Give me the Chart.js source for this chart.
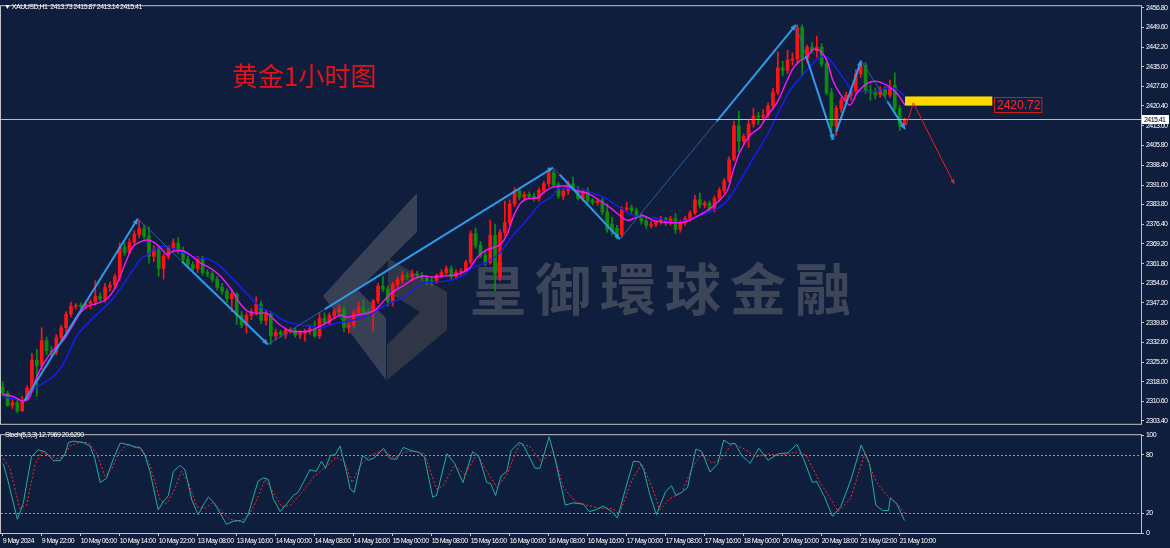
<!DOCTYPE html>
<html>
<head>
<meta charset="utf-8">
<script src="https://cdn.jsdelivr.net/npm/chart.js@4.4.1/dist/chart.umd.min.js"></script>
<style>
  html, body { margin: 0; padding: 0; background: #101e3e; }
  #wrap { position: relative; width: 1170px; height: 548px; overflow: hidden; background: #101e3e; }
  canvas { position: absolute; left: 0; z-index: 1; }
  #price { top: 0; }
  #stoch { top: 429px; }
  .lbl { position: absolute; z-index: 2; color: #fff; font: 7px "Liberation Sans", sans-serif; letter-spacing: -0.5px; white-space: nowrap; }
  #title { position: absolute; z-index: 2; left: 232px; top: 56px; color: #e3131b; font: 26px "Noto Sans CJK SC", sans-serif; }
  #wm { position: absolute; z-index: 0; left: 0; top: 0; }
  #wmText { position: absolute; z-index: 0; left: 470px; top: 245px; font: bold 56px "Noto Sans CJK TC", sans-serif; letter-spacing: 9px; color: rgba(125,125,125,0.42); }
</style>
</head>
<body>
<div id="wrap">
  <svg id="wm" width="1170" height="430">
    <polygon points="417,193 417,232 358,290 386,318 386,380 323,296" fill="rgba(130,130,130,0.35)"/>
    <polygon points="388,258 447,292 447,330 387,380 387,345 420,312 388,292" fill="rgba(75,75,75,0.55)"/>
  </svg>
  <div id="wmText">皇御環球金融</div>
  <canvas id="price" width="1170" height="430"></canvas>
  <canvas id="stoch" width="1170" height="119"></canvas>
  <div class="lbl" style="left:4px;top:3px">▼ XAUUSD,H1&nbsp; 2413.73 2415.87 2413.14 2415.41</div>
  <div id="title">黄金1小时图</div>
  <div class="lbl" style="left:5px;top:431px">Stoch(5,3,3) 12.7969 20.6290</div>
</div>
<script>
// hourly bars, index 0 = 9 May 14:00
const open = [
  2316.0, 2313.6, 2309.2, 2310.2, 2307.2, 2311.5, 2315.5, 2326.0, 2324.0, 2333.2,
  2329.5, 2328.8, 2334.3, 2338.0, 2343.0, 2346.0, 2346.3, 2346.0, 2346.8, 2347.7,
  2349.8, 2348.7, 2353.0, 2353.8, 2356.9, 2368.0, 2366.0, 2369.7, 2372.7, 2374.8,
  2372.0, 2364.5, 2367.0, 2360.0, 2364.5, 2367.5, 2369.5, 2366.7, 2363.5, 2361.5,
  2360.0, 2363.5, 2358.5, 2358.0, 2356.0, 2353.0, 2351.5, 2348.8, 2350.5, 2342.6,
  2339.0, 2342.6, 2344.0, 2346.8, 2340.7, 2343.0, 2335.0, 2336.3, 2335.5, 2337.0,
  2337.2, 2335.3, 2336.0, 2336.8, 2337.6, 2335.0, 2341.5, 2340.0, 2342.5, 2344.0,
  2345.0, 2338.0, 2339.0, 2343.5, 2345.6, 2344.0, 2343.3, 2348.0, 2353.5, 2352.5,
  2347.8, 2354.0, 2355.8, 2357.5, 2357.0, 2358.0, 2357.5, 2356.5, 2355.5, 2355.0,
  2357.5, 2358.5, 2360.0, 2357.0, 2358.7, 2359.0, 2362.3, 2373.0, 2368.6, 2365.0,
  2362.3, 2372.3, 2357.0, 2373.3, 2377.0, 2384.0, 2388.8, 2386.5, 2387.5, 2386.8,
  2386.0, 2389.0, 2391.5, 2395.5, 2391.0, 2387.0, 2388.8, 2391.5, 2389.5, 2386.0,
  2388.8, 2385.5, 2384.5, 2385.0, 2381.0, 2376.5, 2375.0, 2372.5, 2382.0, 2382.5,
  2381.5, 2379.5, 2377.7, 2376.0, 2376.5, 2377.3, 2378.5, 2377.0, 2378.5, 2374.5,
  2377.0, 2378.5, 2380.7, 2385.5, 2383.5, 2384.3, 2382.0, 2386.0, 2389.0, 2392.5,
  2400.5, 2413.0, 2407.3, 2409.0, 2413.7, 2416.6, 2416.3, 2417.0, 2420.3, 2425.5,
  2434.5, 2433.6, 2437.4, 2437.8, 2449.5, 2438.0, 2442.2, 2441.0, 2442.2, 2436.0,
  2425.3, 2413.0, 2419.5, 2422.5, 2424.3, 2426.0, 2432.3, 2435.5, 2426.0, 2425.5,
  2424.5, 2426.5, 2424.5, 2428.0, 2419.5, 2413.73
];
const high = [
  2318.0, 2314.5, 2311.5, 2311.0, 2312.5, 2316.5, 2328.5, 2330.0, 2338.0, 2334.5,
  2331.0, 2335.5, 2339.0, 2344.0, 2347.5, 2347.0, 2347.3, 2347.5, 2348.5, 2355.5,
  2351.0, 2354.5, 2355.0, 2358.0, 2369.5, 2369.5, 2371.0, 2374.0, 2378.0, 2376.0,
  2375.5, 2368.5, 2368.5, 2365.5, 2368.5, 2371.0, 2371.5, 2368.0, 2364.5, 2362.5,
  2364.5, 2364.5, 2359.5, 2359.0, 2357.0, 2354.5, 2352.5, 2352.0, 2351.0, 2344.0,
  2343.5, 2345.0, 2349.5, 2348.0, 2344.5, 2344.0, 2337.5, 2337.0, 2338.0, 2338.0,
  2338.0, 2337.0, 2337.5, 2339.0, 2340.5, 2343.5, 2343.5, 2343.5, 2345.0, 2346.5,
  2346.0, 2340.0, 2344.5, 2347.5, 2348.5, 2345.0, 2348.5, 2354.5, 2357.0, 2353.5,
  2355.0, 2357.0, 2359.0, 2358.5, 2359.5, 2359.0, 2358.5, 2357.5, 2357.0, 2358.0,
  2359.5, 2361.0, 2361.0, 2359.5, 2360.0, 2363.0, 2374.0, 2375.0, 2370.0, 2366.5,
  2378.0, 2376.5, 2374.5, 2385.0, 2385.5, 2390.0, 2390.0, 2388.5, 2388.5, 2388.0,
  2390.0, 2392.5, 2397.5, 2396.5, 2392.0, 2389.5, 2392.5, 2394.0, 2390.5, 2389.5,
  2390.0, 2386.0, 2386.0, 2386.0, 2384.0, 2379.0, 2376.0, 2383.0, 2384.5, 2383.5,
  2382.5, 2380.5, 2378.5, 2377.5, 2378.0, 2379.5, 2379.0, 2379.5, 2380.5, 2378.0,
  2379.5, 2381.5, 2387.3, 2388.0, 2385.0, 2385.0, 2387.0, 2390.0, 2393.5, 2401.5,
  2414.8, 2418.5, 2410.0, 2415.0, 2419.5, 2418.0, 2419.0, 2421.5, 2427.0, 2440.4,
  2437.0, 2441.0, 2440.0, 2450.5, 2450.5, 2443.0, 2444.0, 2446.3, 2443.5, 2437.0,
  2427.0, 2420.5, 2423.5, 2425.5, 2427.0, 2434.0, 2437.2, 2436.5, 2428.0, 2427.0,
  2427.5, 2427.5, 2430.0, 2432.7, 2420.5, 2415.87
];
const low = [
  2312.8, 2308.8, 2308.0, 2306.5, 2306.8, 2310.8, 2315.0, 2312.5, 2322.5, 2328.0,
  2327.5, 2328.0, 2333.0, 2336.5, 2342.0, 2345.0, 2345.3, 2345.0, 2345.0, 2346.5,
  2348.0, 2347.5, 2351.5, 2352.5, 2355.5, 2365.0, 2365.5, 2368.5, 2371.5, 2371.0,
  2362.0, 2362.5, 2357.2, 2356.0, 2363.5, 2366.5, 2365.5, 2362.5, 2360.5, 2359.0,
  2358.5, 2357.5, 2357.0, 2355.0, 2352.0, 2350.5, 2347.5, 2344.0, 2339.2, 2338.0,
  2336.0, 2341.0, 2342.5, 2339.5, 2339.0, 2331.8, 2333.5, 2334.5, 2334.0, 2336.0,
  2334.5, 2334.0, 2333.0, 2335.5, 2334.5, 2334.0, 2339.0, 2339.0, 2341.5, 2343.0,
  2336.5, 2336.0, 2338.0, 2342.5, 2343.0, 2342.0, 2336.8, 2347.0, 2351.5, 2346.0,
  2346.0, 2353.0, 2354.5, 2356.0, 2355.5, 2356.5, 2355.5, 2354.0, 2353.5, 2354.5,
  2356.5, 2357.5, 2356.0, 2356.0, 2357.5, 2358.0, 2361.5, 2367.5, 2364.0, 2361.0,
  2361.5, 2351.8, 2355.5, 2372.0, 2376.0, 2383.0, 2385.5, 2385.5, 2386.0, 2385.0,
  2385.0, 2388.0, 2390.5, 2390.0, 2386.0, 2385.5, 2387.5, 2389.0, 2385.5, 2385.0,
  2384.0, 2383.5, 2383.5, 2380.0, 2373.5, 2372.5, 2371.0, 2371.5, 2381.0, 2380.5,
  2378.5, 2376.5, 2375.0, 2375.0, 2375.5, 2376.5, 2376.0, 2376.0, 2373.0, 2373.5,
  2376.0, 2377.5, 2380.0, 2382.5, 2382.5, 2381.0, 2381.0, 2385.0, 2388.0, 2392.0,
  2400.0, 2403.3, 2406.0, 2405.0, 2412.5, 2413.5, 2415.0, 2416.0, 2419.0, 2424.5,
  2431.5, 2432.5, 2435.5, 2436.5, 2431.5, 2436.5, 2440.0, 2438.5, 2435.0, 2424.5,
  2407.8, 2409.5, 2418.0, 2420.5, 2422.5, 2425.0, 2431.0, 2425.0, 2422.5, 2423.0,
  2423.5, 2423.5, 2423.5, 2418.5, 2411.3, 2413.14
];
const close = [
  2313.6, 2309.2, 2310.2, 2307.2, 2311.5, 2315.5, 2326.0, 2324.0, 2333.2, 2329.5,
  2328.8, 2334.3, 2338.0, 2343.0, 2346.0, 2346.3, 2346.0, 2346.8, 2347.7, 2349.8,
  2348.7, 2353.0, 2353.8, 2356.9, 2368.0, 2366.0, 2369.7, 2372.7, 2374.8, 2372.0,
  2364.5, 2367.0, 2360.0, 2364.5, 2367.5, 2369.5, 2366.7, 2363.5, 2361.5, 2360.0,
  2363.5, 2358.5, 2358.0, 2356.0, 2353.0, 2351.5, 2348.8, 2350.5, 2342.6, 2339.0,
  2342.6, 2344.0, 2346.8, 2340.7, 2343.0, 2335.0, 2336.3, 2335.5, 2337.0, 2337.2,
  2335.3, 2336.0, 2336.8, 2337.6, 2335.0, 2341.5, 2340.0, 2342.5, 2344.0, 2345.0,
  2338.0, 2339.0, 2343.5, 2345.6, 2343.6, 2343.3, 2348.0, 2353.5, 2352.5, 2347.8,
  2354.0, 2355.8, 2357.5, 2357.0, 2358.0, 2357.5, 2356.5, 2355.5, 2355.0, 2357.5,
  2358.5, 2360.0, 2357.0, 2358.7, 2359.0, 2362.3, 2373.0, 2368.6, 2365.0, 2362.3,
  2372.3, 2358.0, 2373.3, 2377.0, 2384.0, 2388.8, 2386.5, 2387.5, 2386.8, 2386.0,
  2389.0, 2391.5, 2395.5, 2391.0, 2387.0, 2388.8, 2391.5, 2389.5, 2386.0, 2388.8,
  2385.0, 2384.5, 2385.0, 2381.0, 2374.5, 2373.5, 2372.5, 2382.0, 2382.5, 2381.5,
  2379.5, 2377.7, 2376.0, 2376.5, 2377.3, 2378.5, 2377.0, 2378.5, 2374.5, 2377.0,
  2378.5, 2380.7, 2385.5, 2383.5, 2384.3, 2382.0, 2386.0, 2389.0, 2392.5, 2400.5,
  2413.0, 2407.3, 2409.0, 2413.7, 2416.6, 2416.3, 2417.0, 2420.3, 2425.5, 2434.5,
  2433.6, 2437.4, 2437.8, 2449.5, 2438.0, 2442.2, 2441.0, 2442.2, 2436.0, 2425.3,
  2413.0, 2419.5, 2422.5, 2424.3, 2426.0, 2432.3, 2435.5, 2426.0, 2425.5, 2424.5,
  2426.5, 2424.5, 2427.0, 2419.5, 2413.0, 2415.41
];

// moving averages: [bar, price]
const maFast = [[0,2313.2],[2.1,2312.5],[4.2,2310.7],[5.6,2312.5],[7,2319.8],[8.3,2324.5],[10.3,2329.6],[12.4,2333.2],[14.4,2339],[15.9,2343.4],[17.3,2345.9],[19.3,2347],[21.4,2348.8],[23,2352.5],[24.1,2357.2],[25.7,2364.4],[26.7,2368.1],[28.2,2369.9],[29.8,2370.6],[31.2,2369.5],[32.7,2367],[33.7,2365.2],[34.9,2366.3],[36.8,2366.6],[38.4,2365.2],[40.1,2362.6],[41.9,2360.8],[43.5,2359],[45.2,2356.1],[47.2,2351.4],[48.7,2347],[50.3,2344.1],[52.2,2343.4],[54.2,2343.4],[55.4,2341.5],[56.9,2339],[58.9,2336.8],[61,2336.5],[63,2336.8],[65.1,2338.6],[67.1,2340.5],[69.2,2342.7],[70.6,2341.9],[72.7,2342.7],[74.7,2343.4],[76.4,2344.5],[78,2347.7],[80.1,2351.4],[82.1,2353.5],[84.2,2356.1],[86.2,2357.2],[88.3,2356.8],[90.3,2357.2],[92.4,2357.5],[94.4,2358.6],[95.9,2360.4],[97.3,2364.1],[99.3,2367],[100.6,2367.7],[102,2368.8],[103.4,2372.4],[104.7,2379],[106.1,2384],[107.5,2385.9],[109.6,2386.2],[110.8,2388],[112.3,2389.9],[113.7,2390.6],[115.8,2390.6],[117.8,2388.8],[119.9,2388],[121.9,2385.9],[124.6,2382.6],[126.6,2379.7],[128.1,2377.9],[130.1,2379],[131.3,2379.7],[133.4,2377.9],[136.3,2377.1],[139.5,2377.1],[141.6,2378.6],[144.5,2381.5],[146.5,2384.4],[148.6,2388.8],[149.8,2396],[151.2,2403.3],[153.3,2409.5],[155.3,2412.4],[156.8,2416.7],[158.8,2421.5],[160.9,2429.8],[162.1,2434.2],[163.5,2437.1],[165,2438.5],[166.2,2441.4],[167.7,2440.7],[169.1,2437.1],[170.3,2429.8],[171.7,2425.1],[173.8,2420.7],[175.2,2425.1],[177.3,2428.7],[179.3,2429.5],[181.4,2428],[183.4,2425.1],[185.1,2420.7]];
const maSlow = [[0,2312.5],[1.5,2311.8],[5,2311.4],[6.2,2315],[10.3,2319.8],[12.4,2324.5],[15.2,2335],[18.5,2341.5],[22.6,2348.8],[25.5,2356.1],[28.2,2363.3],[29.8,2365.2],[31.7,2367.7],[33.7,2368.1],[36.4,2366.3],[39,2364.4],[42.5,2363.3],[44.6,2360.8],[47.2,2356.1],[50.1,2350.6],[52.8,2345.9],[55.4,2343.4],[57.5,2340.8],[61,2339],[63,2338.6],[65.1,2337.9],[68.6,2339.7],[71.2,2340.5],[75.3,2342.7],[77.4,2345.2],[80.1,2347.7],[82.9,2349.9],[85.6,2354.3],[88.3,2355],[91.1,2355.4],[93.8,2356.8],[96.5,2360.4],[99.3,2362.3],[102,2365.9],[104.7,2372.4],[107.5,2377.9],[110.2,2384],[112.3,2386.2],[114.3,2389.9],[117,2389.5],[118.4,2389.5],[121.1,2388],[123.9,2385.9],[126.6,2382.6],[129.3,2379.7],[132.2,2379],[134.8,2378.6],[137.5,2377.1],[140.4,2377.9],[143,2379.7],[146.5,2382.2],[148.6,2385.1],[151.2,2392.4],[153.9,2400.8],[156.8,2409.5],[158.8,2416.7],[161.5,2426.2],[163.5,2430.5],[165.6,2434.9],[167.7,2438.5],[169.1,2438.5],[171.1,2434.2],[173.2,2428.7],[174.4,2425.8],[176.5,2425.8],[179.3,2425.8],[182,2427.3],[183.6,2426.2],[185.1,2424]];

// stochastic (5,3,3): [bar, value]
const stochMain = [[0.1,71],[1.1,53],[3,14],[4.2,30],[5.9,78],[7.3,85],[8.7,83],[10.4,74],[11.8,74],[12.8,81],[13.5,92.5],[14.5,94],[16.5,92.5],[17.9,89],[18.9,76],[20,51.5],[21.3,56],[22.7,76],[24.1,92],[25.1,91],[26.1,90],[27.1,87.6],[28.2,87.6],[29.2,79],[30.2,63],[31.9,23.6],[32.9,31.8],[34,38.4],[35,63],[36.4,69],[37.4,64.6],[38.8,33.5],[40.1,18.7],[41.3,30],[42.2,36.7],[43.2,31.8],[44.6,20.3],[45.9,8.9],[47.3,12],[48.7,12.8],[49.4,10.4],[50.4,19.7],[51.4,36.7],[52.4,53],[53.5,56.4],[54.5,54.7],[55.5,35],[56.9,22],[58.3,30],[59.6,38.4],[60.6,41.6],[61.8,53],[63,64.6],[64.3,63],[65.4,73.4],[66.2,66],[67.2,79.3],[68.2,80],[69.2,89],[70.5,63],[71.3,44.9],[72.1,41.6],[73.8,79.3],[75,74.4],[76.2,76.8],[78.1,86.6],[79.5,76],[80.8,75.4],[82.2,87.6],[83.7,84.3],[85.3,82.7],[86.5,77.8],[88.2,36.7],[89,38.4],[91.1,81],[92.7,71.2],[94.4,51.5],[96.4,83.3],[97.7,77.8],[99.3,51.5],[100.1,50.5],[101.1,38.4],[102.2,58],[103.4,63],[104.3,84.3],[105.9,92.5],[106.7,90.8],[109.2,66.2],[110.2,66.2],[112.1,98.4],[113.3,76],[115.4,28.5],[117,30.8],[119.1,29.5],[120.3,22],[121.6,23.6],[123.2,27.6],[124.9,22],[126.1,15.4],[128.2,53],[129.4,73.4],[130.6,72.8],[131.5,64.6],[132.7,40],[134.1,18.7],[136,42.6],[137.2,48.2],[138.1,38.4],[139.3,41.6],[140.5,46.6],[142.2,85.9],[143.4,83.3],[145.1,62.3],[146.7,71.2],[147.9,95.1],[149.2,90.8],[150.2,91.8],[151.6,79.3],[153.3,71.2],[155.1,86.6],[157,74.4],[159.1,81],[161.1,82],[162.9,90.8],[164.4,74.4],[166.1,51.5],[166.9,53],[168.6,36.7],[170.2,17],[171.9,26.9],[173.9,53],[176.1,89.9],[177.8,71.2],[179.1,28.5],[180.5,22.9],[181.7,22.9],[182.1,36],[183.4,29.5],[185,12.8]];
const stochSignal = [[0.1,76],[1.5,66],[3.5,25],[4.9,28.5],[6.6,69.5],[8,82.7],[9.7,79],[11.1,76],[12.4,77.7],[13.8,89],[15.9,93],[17.6,92.5],[19.3,81],[21,58],[22.4,66],[23.7,81],[25.4,90],[27.1,89],[28.8,84],[30.2,69.5],[32.3,33.5],[33.6,30],[35,41.6],[36.7,63],[38.1,51.5],[39.8,27],[41.5,25],[43.2,31.8],[44.9,22],[46.6,14],[48.7,12],[50.4,17],[52.1,33.5],[53.8,54.7],[55.5,41.6],[57.2,27],[58.9,28],[61.4,41.6],[63.9,58],[66.4,67.9],[68.4,77.8],[70.1,72.8],[71.7,51.5],[73.4,69.5],[75.4,79.3],[77.9,84.3],[80.4,76.8],[82.4,82.7],[84.5,83.3],[86.5,81],[89,44.9],[90.3,48.2],[92.7,69.5],[94.8,59.6],[97.3,81],[99.3,63],[101.4,46.6],[103.4,59.6],[105.9,89.9],[108,89.2],[110.5,72.8],[112.9,84.3],[115,46.6],[117.5,31.8],[119.9,28.5],[122.4,25.2],[124.9,25.2],[126.5,19.7],[129,53],[131.1,71.2],[133.1,48.2],[134.8,23.6],[136.8,35],[139.3,41.6],[141.4,66.2],[143.4,81],[145.5,71.2],[147.5,76],[149.6,91.8],[152.1,85.9],[154.5,77.8],[157,81],[159.5,79.3],[162.8,82.7],[164.8,79.3],[167.7,51.5],[171.4,22],[173.9,35],[176.8,81],[179.3,51.5],[181.7,36.7],[183.5,30],[185,20.6]];

// axes
const priceTicks = [2456.80, 2449.60, 2442.20, 2435.00, 2427.60, 2420.40, 2413.00, 2405.80, 2398.40, 2391.00, 2383.80, 2376.40, 2369.20, 2361.80, 2354.60, 2347.20, 2339.80, 2332.60, 2325.20, 2318.00, 2310.60, 2303.40];
const stochTicks = [0, 20, 80, 100];
const timeTickBars = [0, 8, 16, 24, 32, 40, 48, 56, 64, 72, 80, 88, 96, 104, 112, 120, 128, 136, 144, 152, 160, 168, 176, 184];
const timeTickLabels = ["9 May 2024", "9 May 22:00", "10 May 06:00", "10 May 14:00", "10 May 22:00", "13 May 08:00", "13 May 16:00", "14 May 00:00", "14 May 08:00", "14 May 16:00", "15 May 00:00", "15 May 08:00", "15 May 16:00", "16 May 00:00", "16 May 08:00", "16 May 16:00", "17 May 00:00", "17 May 08:00", "17 May 16:00", "18 May 00:00", "20 May 10:00", "20 May 18:00", "21 May 02:00", "21 May 10:00"];

// drawn objects
const bidPrice = 2415.41;
const zigBars = [4.5, 27.7, 54.4, 112.9, 126.6, 162.7, 170.4, 176.1, 185.1];
const zigPrices = [2311.0, 2378.5, 2331.8, 2397.5, 2370.9, 2450.5, 2407.8, 2437.2, 2411.8];
const zoneBars = [185.1, 203.0];
const zonePrices = [2420.5, 2423.9];
const zoneLabel = 2420.72;
const forecastBars = [185.3, 186.8, 195.2];
const forecastPrices = [2413.0, 2421.5, 2391.4];

const xMin = -0.35, xMax = 233.5;
const upColor = '#ff1414', downColor = '#0c8c0c';
const axisColor = '#c4c4c8';
const smallFont = '"Liberation Sans", sans-serif';

Chart.defaults.font.family = smallFont;
Chart.defaults.font.size = 7;
Chart.defaults.color = '#ffffff';

function arrow(ctx, x1, y1, x2, y2, head) {
  ctx.beginPath(); ctx.moveTo(x1, y1); ctx.lineTo(x2, y2); ctx.stroke();
  const ang = Math.atan2(y2 - y1, x2 - x1);
  ctx.beginPath();
  ctx.moveTo(x2, y2);
  ctx.lineTo(x2 - head * Math.cos(ang - 0.45), y2 - head * Math.sin(ang - 0.45));
  ctx.lineTo(x2 - head * Math.cos(ang + 0.45), y2 - head * Math.sin(ang + 0.45));
  ctx.closePath(); ctx.fill();
}

// tight text like the terminal's small axis font
const tightText = {
  id: 'tightText',
  beforeDraw(chart) { chart.ctx.letterSpacing = '-0.55px'; }
};

const frame = {
  id: 'frame',
  afterDraw(chart) {
    const {ctx, chartArea: a} = chart;
    ctx.save();
    ctx.strokeStyle = axisColor; ctx.lineWidth = 1;
    ctx.strokeRect(a.left - 0.5, a.top - 0.5, a.right - a.left + 1, a.bottom - a.top + 1);
    ctx.restore();
  }
};

// where the bright part of each zigzag leg begins (the rest is a thin trend line)
const zigSolidFrom = [0, 0.34, 0.2, 0.1, 0.55, 0.27, 0.1, 0.6];

const priceDecor = {
  id: 'priceDecor',
  afterDatasetsDraw(chart) {
    const {ctx, chartArea: a, scales: {x, y}} = chart;
    ctx.save();
    ctx.beginPath(); ctx.rect(a.left, a.top, a.right - a.left, a.bottom - a.top); ctx.clip();

    // zigzag legs
    for (let i = 1; i < zigBars.length; i++) {
      const x1 = x.getPixelForValue(zigBars[i - 1]), y1 = y.getPixelForValue(zigPrices[i - 1]);
      const x2 = x.getPixelForValue(zigBars[i]), y2 = y.getPixelForValue(zigPrices[i]);
      ctx.strokeStyle = '#2b5f9e'; ctx.lineWidth = 1;
      ctx.beginPath(); ctx.moveTo(x1, y1); ctx.lineTo(x2, y2); ctx.stroke();
      const f = zigSolidFrom[i - 1];
      ctx.strokeStyle = '#2e9ae8'; ctx.fillStyle = '#2e9ae8'; ctx.lineWidth = 2;
      arrow(ctx, x1 + (x2 - x1) * f, y1 + (y2 - y1) * f, x2, y2, 6);
    }

    // bid line
    const yb = Math.round(y.getPixelForValue(bidPrice)) + 0.5;
    ctx.strokeStyle = '#b9bdc9'; ctx.lineWidth = 1;
    ctx.beginPath(); ctx.moveTo(a.left, yb); ctx.lineTo(a.right, yb); ctx.stroke();

    // yellow zone
    const zx1 = x.getPixelForValue(zoneBars[0]), zx2 = x.getPixelForValue(zoneBars[1]);
    const zy1 = y.getPixelForValue(zonePrices[1]), zy2 = y.getPixelForValue(zonePrices[0]);
    ctx.fillStyle = '#ffd800';
    ctx.fillRect(zx1, zy1, zx2 - zx1, zy2 - zy1);

    // forecast arrow
    ctx.strokeStyle = '#e8231e'; ctx.fillStyle = '#e8231e'; ctx.lineWidth = 1;
    ctx.beginPath();
    ctx.moveTo(x.getPixelForValue(forecastBars[0]), y.getPixelForValue(forecastPrices[0]));
    ctx.lineTo(x.getPixelForValue(forecastBars[1]), y.getPixelForValue(forecastPrices[1]));
    ctx.stroke();
    arrow(ctx, x.getPixelForValue(forecastBars[1]), y.getPixelForValue(forecastPrices[1]),
      x.getPixelForValue(forecastBars[2]), y.getPixelForValue(forecastPrices[2]), 5);

    // zone price label
    const ly = y.getPixelForValue(zoneLabel);
    ctx.letterSpacing = '0px';
    ctx.font = '12px "Liberation Sans", sans-serif';
    const txt = zoneLabel.toFixed(2);
    const tw = ctx.measureText(txt).width;
    ctx.strokeStyle = '#d41a1a'; ctx.lineWidth = 1;
    ctx.strokeRect(Math.round(zx2) + 2.5, Math.round(ly) - 7.5, tw + 4, 15);
    ctx.fillStyle = '#ff2626'; ctx.textBaseline = 'middle';
    ctx.fillText(txt, Math.round(zx2) + 5, ly + 0.5);
    ctx.restore();

    // bid price box on the axis
    ctx.save();
    ctx.fillStyle = '#ffffff';
    ctx.fillRect(a.right + 1, yb - 4.5, 27, 9);
    ctx.fillStyle = '#000000'; ctx.font = '7px ' + smallFont;
    ctx.textBaseline = 'middle';
    ctx.fillText(bidPrice.toFixed(2), a.right + 3, yb + 0.5);
    ctx.restore();
  }
};

const stochDecor = {
  id: 'stochDecor',
  beforeDatasetsDraw(chart) {
    const {ctx, chartArea: a, scales: {y}} = chart;
    ctx.save();
    ctx.strokeStyle = '#8c97ad'; ctx.lineWidth = 1; ctx.setLineDash([2, 2]);
    [20, 80].forEach(v => {
      const yy = Math.round(y.getPixelForValue(v)) + 0.5;
      ctx.beginPath(); ctx.moveTo(a.left, yy); ctx.lineTo(a.right, yy); ctx.stroke();
    });
    ctx.restore();
  }
};

const bodyColor = c => close[c.dataIndex] >= open[c.dataIndex] ? upColor : downColor;

new Chart(document.getElementById('price'), {
  type: 'bar',
  data: {
    datasets: [
      { type: 'line', data: maFast.map(p => ({x: p[0], y: p[1]})), borderColor: '#ff14ff', borderWidth: 1.4, pointRadius: 0, tension: 0.3, order: 1 },
      { type: 'line', data: maSlow.map(p => ({x: p[0], y: p[1]})), borderColor: '#1a1aff', borderWidth: 1.4, pointRadius: 0, tension: 0.3, order: 2 },
      { data: open.map((o, i) => ({x: i, y: [o, close[i]]})), backgroundColor: bodyColor, barThickness: 3, minBarLength: 1, grouped: false, order: 3 },
      { data: open.map((o, i) => ({x: i, y: [low[i], high[i]]})), backgroundColor: bodyColor, barThickness: 1, grouped: false, order: 4 }
    ]
  },
  options: {
    responsive: false, animation: false, events: [],
    layout: { padding: { left: 1, top: 1, right: 0, bottom: 2 } },
    plugins: { legend: { display: false }, tooltip: { enabled: false } },
    scales: {
      x: { type: 'linear', min: xMin, max: xMax, display: false, offset: false, grid: { offset: false } },
      y: {
        position: 'right', min: 2302.33, max: 2457.42, beginAtZero: false,
        afterBuildTicks: s => { s.ticks = priceTicks.map(v => ({value: v})); },
        afterFit: s => { s.width = 29; },
        ticks: { autoSkip: false, padding: 2, callback: v => v.toFixed(2) },
        grid: { drawOnChartArea: false, tickLength: 3, color: axisColor },
        border: { color: axisColor }
      }
    }
  },
  plugins: [tightText, frame, priceDecor]
});

new Chart(document.getElementById('stoch'), {
  type: 'line',
  data: {
    datasets: [
      { data: stochMain.map(p => ({x: p[0], y: p[1]})), borderColor: '#22aea6', borderWidth: 1, pointRadius: 0, tension: 0 },
      { data: stochSignal.map(p => ({x: p[0], y: p[1]})), borderColor: '#ff2a2a', borderWidth: 1, borderDash: [2, 2], pointRadius: 0, tension: 0 }
    ]
  },
  options: {
    responsive: false, animation: false, events: [],
    layout: { padding: { left: 1, top: 2, right: 0, bottom: 0 } },
    plugins: { legend: { display: false }, tooltip: { enabled: false } },
    scales: {
      x: {
        type: 'linear', min: xMin, max: xMax,
        afterBuildTicks: s => { s.ticks = timeTickBars.map(v => ({value: v})); },
        afterFit: s => { s.height = 15; },
        ticks: { autoSkip: false, maxRotation: 0, align: 'start', padding: 1,
          callback: v => timeTickLabels[timeTickBars.indexOf(v)] },
        grid: { drawOnChartArea: false, tickLength: 3, color: axisColor },
        border: { color: axisColor }
      },
      y: {
        position: 'right', min: 0, max: 100,
        afterBuildTicks: s => { s.ticks = stochTicks.map(v => ({value: v})); },
        afterFit: s => { s.width = 29; },
        ticks: { autoSkip: false, padding: 2 },
        grid: { drawOnChartArea: false, tickLength: 3, color: axisColor },
        border: { color: axisColor }
      }
    }
  },
  plugins: [tightText, frame, stochDecor]
});
</script>
</body>
</html>
